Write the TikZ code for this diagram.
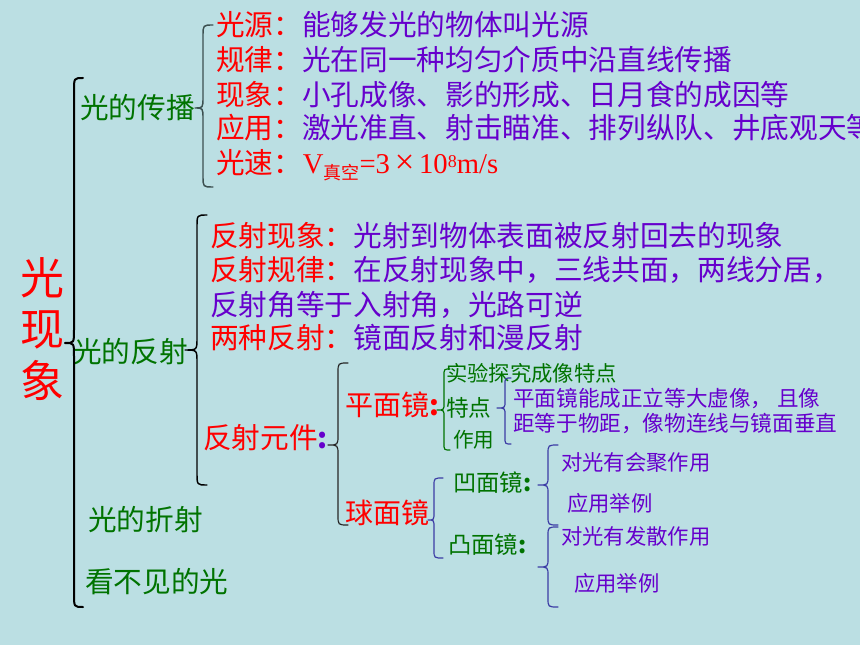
\documentclass[tikz,border=0pt]{standalone}
\usepackage{fontspec}
\setmainfont{Noto Sans CJK SC}
\newfontfamily\cjkfont{Noto Sans CJK SC}
\newfontfamily\latinfont{Liberation Serif}
\definecolor{bg}{RGB}{187,223,227}
\definecolor{cred}{RGB}{255,0,0}
\definecolor{cpur}{RGB}{102,0,204}
\definecolor{cgrn}{RGB}{0,115,0}
\definecolor{cblu}{RGB}{60,60,165}
\definecolor{cgray}{RGB}{60,80,80}
\newcommand\setfs[1]{\fontsize{#1}{#1}\selectfont}
% brace: style, x-end, x-vertical, x-tip, y-top, y-tip, y-bottom, curl radius
\newcommand\drawbrace[8]{%
  \draw[#1] (#2,#5) .. controls (#3,#5) .. (#3,#5+#8) -- (#3,#6-#8)
    .. controls (#3,#6) .. (#4,#6) .. controls (#3,#6) .. (#3,#6+#8)
    -- (#3,#7-#8) .. controls (#3,#7) .. (#2,#7);}
\begin{document}
\begin{tikzpicture}[x=0.75pt,y=-0.75pt,
  t/.style={anchor=west,inner sep=0pt,font={\setfs{21.5}}},
  big/.style={anchor=center,inner sep=0pt,text=cred,font={\setfs{33}}},
  sm/.style={anchor=west,inner sep=0pt,font={\setfs{16}}},
  br/.style={line width=0.9pt,line cap=round,line join=round}]
\fill[bg] (0,0) rectangle (860,645);
\useasboundingbox (0,0) rectangle (860,645);
\clip (0,0) rectangle (860,645);

% title
\node[big] (g1) at (42,278) {光};
\node[big] (g2) at (42,330) {现};
\node[big] (g3) at (42,380) {象};

% level 1
\node[t,text=cgrn] (cb) at (80,108) {光的传播};
\node[t,text=cgrn] (cr) at (73,352) {光的反射};
\node[t,text=cgrn] (cz) at (88,520) {光的折射};
\node[t,text=cgrn] (kb) at (85,582) {看不见的光};

% propagation
\node[t] (l1) at (216,25) {\textcolor{cred}{光源：}\textcolor{cpur}{能够发光的物体叫光源}};
\node[t] (l2) at (216,60) {\textcolor{cred}{规律：}\textcolor{cpur}{光在同一种均匀介质中沿直线传播}};
\node[t] (l3) at (216,95) {\textcolor{cred}{现象：}\textcolor{cpur}{小孔成像、影的形成、日月食的成因等}};
\node[t] (l4) at (216,128) {\textcolor{cred}{应用：}\textcolor{cpur}{激光准直、射击瞄准、排列纵队、井底观天等}};
\node[t,text=cred] (l5) at (216,163) {光速：};
\node[anchor=base west,inner sep=0pt,text=cred,font={\latinfont\setfs{21.5}}] (l5f) at (l5.base east)
  {V\raisebox{-4.5pt}{\cjkfont\setfs{13.5}真空}=3\,{\setfs{26}×}\,10\raisebox{4.5pt}{\setfs{13.5}8}m/s};

% reflection
\node[t] (r1) at (210,236) {\textcolor{cred}{反射现象：}\textcolor{cpur}{光射到物体表面被反射回去的现象}};
\node[t] (r2) at (210,270) {\textcolor{cred}{反射规律：}\textcolor{cpur}{在反射现象中，三线共面，两线分居，}};
\node[t,text=cpur] (r3) at (210,305) {反射角等于入射角，光路可逆};
\node[t] (r4) at (210,338) {\textcolor{cred}{两种反射：}\textcolor{cpur}{镜面反射和漫反射}};
\node[t] (r5) at (203,438) {\textcolor{cred}{反射元件}\textcolor{cpur}{\textbf{:}}};

% mirrors
\node[t,text=cred,font={\setfs{21}}] (pm) at (345,405) {平面镜\textbf{:}};
\node[t,text=cred,font={\setfs{21}}] (qm) at (345,513) {球面镜};

\node[sm,text=cgrn] (sy) at (446,373) {实验探究成像特点};
\node[t,text=cgrn,font={\setfs{17}}] (td) at (446,408) {特点};
\node[t,text=cgrn,font={\setfs{15.5}}] (zy) at (453,440) {作用};
\node[sm,text=cpur,font={\setfs{16.2}}] (p1) at (513,399) {平面镜能成正立等大虚像， 且像};
\node[sm,text=cpur,font={\setfs{16.2}}] (p2) at (513,424) {距等于物距，像物连线与镜面垂直};

\node[t,text=cgrn,font={\setfs{17.5}}] (am) at (453,483) {凹面镜\textbf{:}};
\node[t,text=cgrn,font={\setfs{17.5}}] (tm) at (448,545) {凸面镜\textbf{:}};
\node[sm,text=cpur] (a1) at (561,462) {对光有会聚作用};
\node[sm,text=cpur] (a2) at (567,503) {应用举例};
\node[sm,text=cpur] (b1) at (561,536) {对光有发散作用};
\node[sm,text=cpur] (b2) at (574,583) {应用举例};

% braces
\drawbrace{br,line width=1.5pt,black}{83}{74}{65}{78}{343}{607}{13}
\drawbrace{br,line width=1.1pt,cgray}{213}{203}{195}{25}{108}{187}{11}
\drawbrace{br,line width=1.1pt,black}{207}{197}{185}{215}{350}{485}{12}
\drawbrace{br,black!85}{348}{338}{328}{363}{445}{525}{10}
\drawbrace{br,cgrn}{450}{444}{437}{369}{410}{450}{7}
\drawbrace{br,cblu}{511}{505}{497}{378}{408}{444}{7}
\drawbrace{br,cblu}{443}{434}{428}{478}{520}{558}{8}
\drawbrace{br,cblu}{558}{548}{538}{445}{485}{525}{9}
\drawbrace{br,cblu}{558}{548}{538}{527}{567}{607}{9}
\end{tikzpicture}
\end{document}
